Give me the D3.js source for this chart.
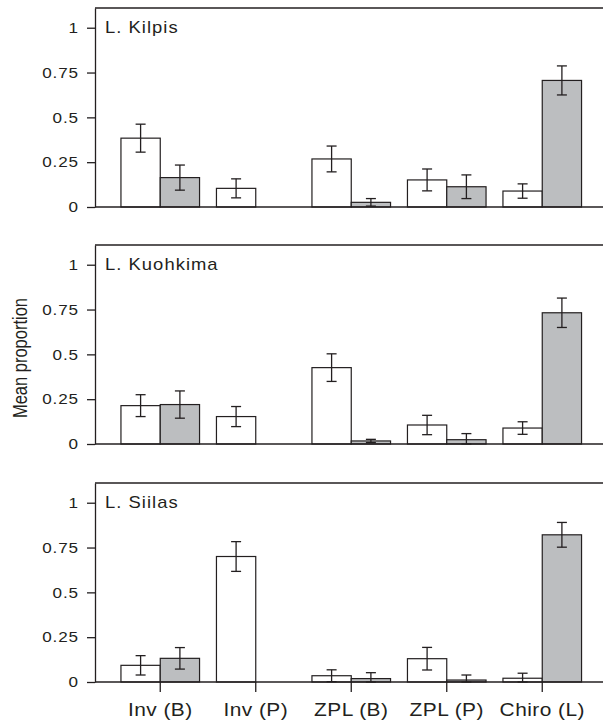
<!DOCTYPE html>
<html>
<head>
<meta charset="utf-8">
<script src="https://cdn.jsdelivr.net/npm/d3@7"></script>
<style>
  body { margin: 0; background: #fff; }
  svg { display: block; font-family: Arial, "Liberation Sans", sans-serif; }
</style>
</head>
<body>
<svg id="chart" width="603" height="723"></svg>
<script>
// categories and panels
var categories = ["Inv (B)", "Inv (P)", "ZPL (B)", "ZPL (P)", "Chiro (L)"]
var lakes = ["L. Kilpis", "L. Kuohkima", "L. Siilas"]
var seriesNames = ["open", "shaded"]
var yTicks = [0, 0.25, 0.5, 0.75, 1]

// mean proportions (open = white bars, shaded = grey bars) and error half-widths
var kilpisOpen = [0.384, 0.104, 0.268, 0.151, 0.089]
var kilpisOpenErr = [0.078, 0.053, 0.072, 0.061, 0.040]
var kilpisShaded = [0.164, 0, 0.026, 0.113, 0.706]
var kilpisShadedErr = [0.070, 0, 0.021, 0.066, 0.081]

var kuohkimaOpen = [0.214, 0.153, 0.426, 0.106, 0.089]
var kuohkimaOpenErr = [0.061, 0.056, 0.077, 0.054, 0.035]
var kuohkimaShaded = [0.220, 0, 0.017, 0.024, 0.732]
var kuohkimaShadedErr = [0.076, 0, 0.009, 0.034, 0.082]

var siilasOpen = [0.093, 0.700, 0.035, 0.130, 0.021]
var siilasOpenErr = [0.054, 0.083, 0.033, 0.063, 0.028]
var siilasShaded = [0.132, 0, 0.019, 0.011, 0.821]
var siilasShadedErr = [0.060, 0, 0.033, 0.028, 0.069]

var panelData = [
  [kilpisOpen, kilpisOpenErr, kilpisShaded, kilpisShadedErr],
  [kuohkimaOpen, kuohkimaOpenErr, kuohkimaShaded, kuohkimaShadedErr],
  [siilasOpen, siilasOpenErr, siilasShaded, siilasShadedErr]
]

var ink = "#231f20"
var fills = { open: "#ffffff", shaded: "#bcbec0" }

var svg = d3.select("#chart")
var left = 95, right = 603
var panelTops = [8, 245, 483]
var panelH = 199

var x = d3.scaleBand()
  .domain(categories)
  .range([112.5, 590])
  .paddingInner(0.177)
  .paddingOuter(0.0885)

var xs = d3.scaleBand()
  .domain(seriesNames)
  .range([0, x.bandwidth()])

var fmt = function(d) { return d3.format("")(d) }

lakes.forEach(function(lake, i) {
  var top = panelTops[i]
  var y = d3.scaleLinear().domain([0, 1.11]).range([top + panelH, top])
  var g = svg.append("g")
  var d = panelData[i]

  var rows = categories.map(function(c, k) {
    return [
      { cat: c, s: "open", v: d[0][k], e: d[1][k] },
      { cat: c, s: "shaded", v: d[2][k], e: d[3][k] }
    ]
  })
  rows = d3.merge(rows)

  // bars
  g.selectAll("rect.bar").data(rows).enter().append("rect")
    .attr("class", "bar")
    .attr("x", function(r) { return x(r.cat) + xs(r.s) })
    .attr("y", function(r) { return y(r.v) })
    .attr("width", xs.bandwidth())
    .attr("height", function(r) { return y(0) - y(r.v) })
    .attr("fill", function(r) { return fills[r.s] })
    .attr("stroke", ink)
    .attr("stroke-width", 1.2)

  // error bars
  var eb = g.selectAll("g.err").data(rows.filter(function(r) { return r.e > 0 }))
    .enter().append("g")
    .attr("class", "err")
    .attr("transform", function(r) { return "translate(" + (x(r.cat) + xs(r.s) + xs.bandwidth() / 2) + ",0)" })
  eb.append("line")
    .attr("y1", function(r) { return y(r.v + r.e) })
    .attr("y2", function(r) { return y(Math.max(0, r.v - r.e)) })
  eb.append("line")
    .attr("x1", -5).attr("x2", 5)
    .attr("y1", function(r) { return y(r.v + r.e) })
    .attr("y2", function(r) { return y(r.v + r.e) })
  eb.append("line")
    .attr("x1", -5).attr("x2", 5)
    .attr("y1", function(r) { return y(Math.max(0, r.v - r.e)) })
    .attr("y2", function(r) { return y(Math.max(0, r.v - r.e)) })
  eb.selectAll("line").attr("stroke", ink).attr("stroke-width", 1.3)

  // frame: top line and baseline
  g.append("line")
    .attr("x1", left).attr("x2", right)
    .attr("y1", top).attr("y2", top)
    .attr("stroke", ink).attr("stroke-width", 1.3)
  g.append("line")
    .attr("x1", left).attr("x2", right)
    .attr("y1", y(0)).attr("y2", y(0))
    .attr("stroke", ink).attr("stroke-width", 1.3)

  // y axis
  var ya = g.append("g")
    .attr("transform", "translate(" + left + ",0)")
    .call(d3.axisLeft(y).tickValues(yTicks).tickFormat(fmt).tickSize(8).tickPadding(6).tickSizeOuter(0))
  ya.select(".domain").attr("stroke", ink).attr("stroke-width", 1.3)
  ya.selectAll(".tick line").attr("stroke", ink).attr("stroke-width", 1.3)
  ya.selectAll(".tick text")
    .attr("fill", ink)
    .style("font-size", "15px")
    .style("letter-spacing", "0.8px")
    .attr("transform", "scale(1.14,1)")

  // panel title
  g.append("text")
    .attr("transform", "translate(105," + (top + 25) + ") scale(1.15,1)")
    .attr("fill", ink)
    .style("font-size", "16px")
    .style("letter-spacing", "0.9px")
    .text(lake)

  // category axis on the last panel
  if (i === lakes.length - 1) {
    var xa = g.append("g")
      .attr("transform", "translate(0," + y(0) + ")")
      .call(d3.axisBottom(x).tickSize(10).tickPadding(11))
    xa.select(".domain").remove()
    xa.selectAll(".tick line")
      .attr("stroke", ink).attr("stroke-width", 1.3)
    xa.selectAll(".tick text")
      .attr("fill", ink)
      .style("font-size", "19px")
      .style("letter-spacing", "0.4px")
      .attr("transform", "scale(1.1,1)")
  }
})

// y axis title
svg.append("text")
  .attr("transform", "translate(26.5,358) rotate(-90) scale(1,1.22)")
  .attr("text-anchor", "middle")
  .attr("fill", ink)
  .style("font-size", "16.5px")
  .text("Mean proportion")
</script>
</body>
</html>
